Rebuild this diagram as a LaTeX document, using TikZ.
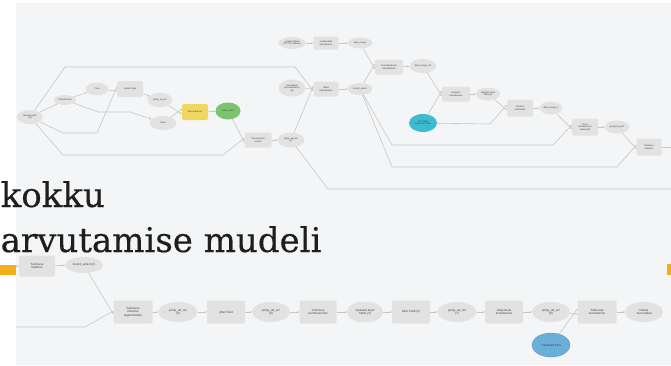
\documentclass[tikz,border=0pt]{standalone}
\usepackage{fontspec}
\setmainfont{Liberation Sans}
\newfontfamily\titlefont[FakeBold=0.4]{DejaVu Serif}
\usetikzlibrary{shapes.geometric,arrows.meta}
\definecolor{panel}{HTML}{F4F5F6}
\definecolor{nodegray}{HTML}{E2E2E2}
\definecolor{edgegray}{HTML}{C6C6C6}
\definecolor{ylw}{HTML}{F0D860}
\definecolor{grn}{HTML}{7CC36E}
\definecolor{tealc}{HTML}{3DBCD0}
\definecolor{bluec}{HTML}{6AAFD8}
\definecolor{orng}{HTML}{F5AE1B}
\definecolor{titletext}{HTML}{1E1E1E}
\begin{document}
\begin{tikzpicture}[x=1pt,y=-1pt,
  lbl/.style={font=\fontsize{2.3}{2.7}\selectfont, align=center, text=black!75},
  blbl/.style={font=\fontsize{3}{3.5}\selectfont, align=center, text=black!75},
  var/.style={lbl, ellipse, fill=nodegray, minimum width=26pt, minimum height=13pt, inner sep=0pt},
  tool/.style={lbl, rectangle, rounded corners=1.5pt, fill=nodegray, minimum width=26pt, minimum height=15pt, inner sep=0pt},
  bvar/.style={blbl, ellipse, fill=nodegray, minimum width=38pt, minimum height=20pt, inner sep=0pt},
  btool/.style={blbl, rectangle, rounded corners=2pt, fill=nodegray, minimum width=38pt, minimum height=23pt, inner sep=0pt},
  conn/.style={draw=edgegray, line width=0.6pt, -{Stealth[length=2pt,width=2pt]}},
  plain/.style={draw=edgegray, line width=0.6pt},
]
\useasboundingbox (0,0) rectangle (671,365);
\fill[white] (0,0) rectangle (671,365);
\fill[panel] (16,3) rectangle (671,365);

% ---------- top model ----------
\node[var, minimum width=26pt, minimum height=14pt] (A) at (30,117) {Metsaregistri\\shp};
\node[var, minimum width=22pt, minimum height=10pt] (B) at (65,100) {If Field Exists};
\node[var, minimum width=23pt] (C) at (97,89) {True};
\node[tool, minimum height=16pt] (D) at (130,89) {Delete Field};
\node[var, minimum width=25pt, minimum height=14pt] (E) at (160,100) {pohja\_ad\_sm};
\node[var, minimum width=27pt, minimum height=14pt] (F) at (163,123) {False};
\node[tool, fill=ylw, minimum height=16pt] (G) at (195,112) {Merge Branch};
\node[var, fill=grn, minimum width=25pt, minimum height=17pt] (H) at (228,111) {valiku\_tulem};
\node[tool, minimum width=27pt] (I) at (258,140) {Transponeeri\\veerud};
\node[var, minimum width=27pt, minimum height=15pt] (J) at (291,140) {pohja\_ad\_sm\\(2)};

\node[var, minimum width=27pt, minimum height=12pt] (K) at (292,43) {Lisatud väljad\\(RTYD) andmed};
\node[tool, minimum width=25pt, minimum height=13pt] (L) at (326,43) {Lisakoodide\\ühendamine};
\node[var, minimum width=25pt, minimum height=11pt] (M) at (360,43) {data\_merge};
\node[var, minimum width=27pt, minimum height=17pt] (N) at (292,88) {Koondatud\\koondandmete\\väli};
\node[tool, minimum width=25pt] (O) at (326,89) {Tabeli\\ühendamine};
\node[var, minimum width=25pt, minimum height=12pt] (P) at (360,89) {koond\_select};
\node[tool, minimum width=28pt] (Q) at (389,67) {Koondandmete\\ühendamine};
\node[var, minimum width=27pt, minimum height=14pt] (R) at (423,66) {data\_merge\_2b};
\node[var, fill=tealc, minimum width=28pt, minimum height=18pt] (S) at (423,123) {Test Table\\Summary Table};
\node[tool, minimum width=28pt] (T) at (456,94) {Andmete\\ühendamine};
\node[var, minimum width=24pt] (U) at (488,94) {Updated Input\\Table (2)};
\node[tool, minimum height=17pt] (V) at (520,108) {Pivoted\\andmestik};
\node[var, minimum width=23pt] (W) at (551,108) {data\_merge\_3};
\node[tool, minimum height=17pt] (X) at (585,127) {Pivot\\tabelivormist\\andmestik};
\node[var, minimum width=25pt] (Y) at (617,127) {grouped\_pivot};
\node[tool, minimum width=25pt, minimum height=17pt] (Z) at (649,147) {Tabelisse\\lisamine};

\coordinate (endR1) at (671,189);
\coordinate (endR2) at (671,147);

\draw[conn] (A) -- (B);
\draw[conn] (A) -- (65,67) -- (295,67) -- ([yshift=-2pt]O.west);
\draw[conn] (A) -- (63,133) -- (97,133) -- ([yshift=2pt]D.west);
\draw[conn] (A) -- (63,155) -- (223,155) -- ([yshift=2pt]I.west);
\draw[conn] (B) -- (C);
\draw[conn] (B) -- (98,112) -- (130,112) -- (F);
\draw[conn] (C) -- ([yshift=-2pt]D.west);
\draw[conn] (D) -- (E);
\draw[conn] (E) -- ([yshift=-2pt]G.west);
\draw[conn] (F) -- ([yshift=3pt]G.west);
\draw[conn] (G) -- (H);
\draw[conn] (H) -- ([yshift=-2pt]I.west);
\draw[conn] (I) -- (J);
\draw[conn] (J) -- ([yshift=3pt]O.west);
\draw[plain] (J) -- (328,189) -- (endR1);
\draw[conn] (K) -- (L);
\draw[conn] (L) -- (M);
\draw[conn] (M) -- ([yshift=-2pt]Q.west);
\draw[conn] (N) -- ([yshift=0.5pt]O.west);
\draw[conn] (O) -- (P);
\draw[conn] (P) -- ([yshift=3pt]Q.west);
\draw[conn] (P) -- (392,145) -- (553,145) -- ([yshift=2pt]X.west);
\draw[conn] (P) -- (392,167) -- (617,167) -- ([yshift=2pt]Z.west);
\draw[conn] (Q) -- (R);
\draw[conn] (R) -- ([yshift=-2pt]T.west);
\draw[conn] (S) -- ([yshift=3pt]T.west);
\draw[conn] (S) -- (490,124) -- ([yshift=3pt]V.west);
\draw[conn] (T) -- (U);
\draw[conn] (U) -- ([yshift=-2pt]V.west);
\draw[conn] (V) -- (W);
\draw[conn] (W) -- ([yshift=-2pt]X.west);
\draw[conn] (X) -- (Y);
\draw[conn] (Y) -- ([yshift=-2pt]Z.west);
\draw[plain] (Z) -- (endR2);

% ---------- bottom model ----------
\node[btool, minimum width=36pt, minimum height=21pt] (b1) at (37,266) {Tulemuse\\lisamine};
\node[bvar, minimum height=16pt] (b2) at (84,265) {koond\_select (2)};
\node[btool, minimum width=39pt] (b3) at (133,312) {Tulemuse\\lisamine\\algandmetele};
\node[bvar, minimum width=39pt] (b4) at (178,312) {pohja\_ad\_sm\\(3)};
\node[btool] (b5) at (226,312) {Alter Field};
\node[bvar] (b6) at (271,312) {pohja\_ad\_sm\\(4)};
\node[btool, minimum width=37pt] (b7) at (318,312) {Tulemuse\\summeerimine};
\node[bvar, minimum width=36pt, minimum height=21pt] (b8) at (365,312) {Updated Input\\Table (3)};
\node[btool] (b9) at (411,312) {Alter Field (2)};
\node[bvar, minimum width=39pt] (b10) at (457,312) {pohja\_ad\_sm\\(7)};
\node[btool] (b11) at (504,312) {Järjestuste\\koondamine};
\node[bvar] (b12) at (551,312) {pohja\_ad\_sm\\(8)};
\node[btool, minimum width=39pt] (b13) at (597,312) {Tähtsuste\\koondamine};
\node[bvar] (b14) at (644,312) {Delete\\Succeeded};
\node[bvar, fill=bluec, draw=bluec!80!black, line width=0.3pt, minimum height=24pt] (b15) at (551,345) {Tulemus0.83\%};

\coordinate (startL1) at (12,266);
\coordinate (startL2) at (16,327);

\draw[conn] (startL1) -- (b1);
\draw[conn] (b1) -- (b2);
\draw[conn] (b2) -- ([yshift=-2pt]b3.west);
\draw[conn] (startL2) -- (85,327) -- ([yshift=1pt]b3.west);
\draw[conn] (b3) -- (b4);
\draw[conn] (b4) -- (b5);
\draw[conn] (b5) -- (b6);
\draw[conn] (b6) -- (b7);
\draw[conn] (b7) -- (b8);
\draw[conn] (b8) -- (b9);
\draw[conn] (b9) -- (b10);
\draw[conn] (b10) -- (b11);
\draw[conn] (b11) -- (b12);
\draw[conn] (b12) -- ([yshift=-2pt]b13.west);
\draw[conn] (b15) -- ([yshift=3pt]b13.west);
\draw[conn] (b13) -- (b14);

% ---------- title and accents ----------
\fill[orng] (0,265) rectangle (16,275);
\fill[orng] (667,264) rectangle (671,275);
\node[anchor=base west, inner sep=0pt, text=titletext, font=\titlefont\fontsize{34}{40}\selectfont] (t1) at (0.5,207) {kokku};
\node[anchor=base west, inner sep=0pt, text=titletext, font=\titlefont\fontsize{34}{40}\selectfont] (t2) at (0.5,252) {arvutamise mudeli};
\end{tikzpicture}
\end{document}
